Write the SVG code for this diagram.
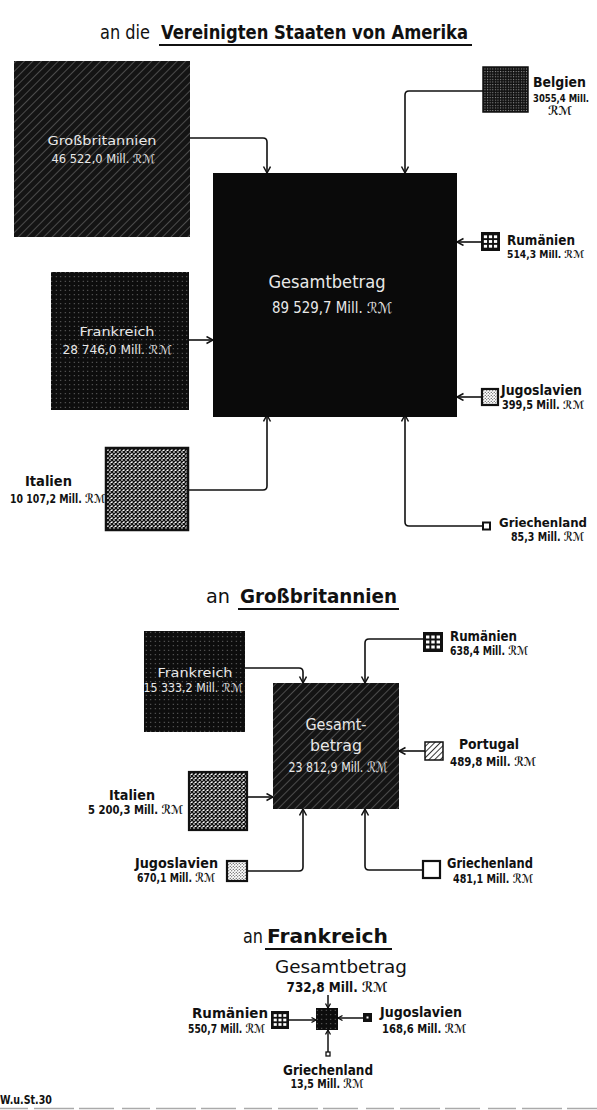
<svg xmlns="http://www.w3.org/2000/svg" xmlns:xlink="http://www.w3.org/1999/xlink" width="597" height="1110" viewBox="0 0 597 1110">
<style>
.lbl{font-family:"DejaVu Sans Condensed","DejaVu Sans","Liberation Sans",sans-serif;font-size:14px;font-weight:bold;fill:#111}
.num{font-family:"DejaVu Sans Condensed","DejaVu Sans","Liberation Sans",sans-serif;font-size:12.5px;font-weight:bold;fill:#111}
.inw{font-family:"DejaVu Sans Condensed","DejaVu Sans","Liberation Sans",sans-serif;font-size:12px;fill:#e8e8e8}
.big{font-family:"DejaVu Sans Condensed","DejaVu Sans","Liberation Sans",sans-serif;font-size:18px;fill:#e8e8e8}
.ttl{font-family:"DejaVu Sans Condensed","DejaVu Sans","Liberation Sans",sans-serif;font-size:20px;fill:#111}
.ttlb{font-family:"DejaVu Sans Condensed","DejaVu Sans","Liberation Sans",sans-serif;font-size:20px;font-weight:bold;fill:#111}
.con{fill:none;stroke:#111;stroke-width:1.6;marker-end:url(#arr)}
.con3{fill:none;stroke:#111;stroke-width:1.5;marker-end:url(#arr3)}
.ul{stroke:#111;stroke-width:2.2}
.bx{stroke:#111;stroke-width:1.5}
</style>
<defs>
<marker id="arr" markerUnits="userSpaceOnUse" markerWidth="10" markerHeight="10" refX="7" refY="4" orient="auto"><path d="M0.5,0.5 L7,4 L0.5,7.5" fill="none" stroke="#111" stroke-width="1.5"/></marker>
<marker id="arr3" markerUnits="userSpaceOnUse" markerWidth="8" markerHeight="8" refX="5" refY="3" orient="auto"><path d="M0.5,0.5 L5,3 L0.5,5.5" fill="none" stroke="#111" stroke-width="1.3"/></marker>
<pattern id="hatchW" width="6" height="6" patternUnits="userSpaceOnUse" patternTransform="rotate(45)"><rect width="6" height="6" fill="#141414"/><line x1="0" y1="0" x2="0" y2="6" stroke="#fff" stroke-width="0.8" stroke-opacity="0.6"/></pattern>
<pattern id="hatchB" width="4" height="4" patternUnits="userSpaceOnUse" patternTransform="rotate(45)"><rect width="4" height="4" fill="#fff"/><line x1="0" y1="0" x2="0" y2="4" stroke="#111" stroke-width="1.7"/></pattern>
<pattern id="dotsW" width="4.5" height="4.5" patternUnits="userSpaceOnUse"><rect width="4.5" height="4.5" fill="#0d0d0d"/><circle cx="2.25" cy="2.25" r="0.55" fill="#fff" fill-opacity="0.6"/></pattern>
<pattern id="dotsD" width="2.6" height="2.6" patternUnits="userSpaceOnUse"><rect width="2.6" height="2.6" fill="#111"/><rect x="1" y="1" width="0.9" height="0.9" fill="#fff" fill-opacity="0.75"/></pattern>
<pattern id="cross" width="4" height="4" patternUnits="userSpaceOnUse"><rect width="4" height="4" fill="#fff"/><path d="M0,0 L4,4 M0,4 L4,0" stroke="#111" stroke-width="1.4"/></pattern>
<pattern id="stip" width="3" height="3" patternUnits="userSpaceOnUse"><rect width="3" height="3" fill="#fff"/><circle cx="0.75" cy="0.75" r="0.6" fill="#222"/><circle cx="2.25" cy="2.25" r="0.6" fill="#222"/></pattern>
<symbol id="win" viewBox="0 0 20 20"><rect width="20" height="20" fill="#111"/><g fill="#fff"><rect x="3" y="3.5" width="3.4" height="3"/><rect x="8.3" y="3.5" width="3.4" height="3"/><rect x="13.6" y="3.5" width="3.4" height="3"/><rect x="3" y="8.5" width="3.4" height="3"/><rect x="8.3" y="8.5" width="3.4" height="3"/><rect x="13.6" y="8.5" width="3.4" height="3"/><rect x="3" y="13.5" width="3.4" height="3"/><rect x="8.3" y="13.5" width="3.4" height="3"/><rect x="13.6" y="13.5" width="3.4" height="3"/></g></symbol>
</defs>
<rect width="597" height="1110" fill="#fff"/>

<g id="title-usa">
<text class="ttl" x="100" y="39" textLength="50" lengthAdjust="spacingAndGlyphs">an die</text>
<text class="ttlb" x="161" y="39" textLength="307" lengthAdjust="spacingAndGlyphs">Vereinigten Staaten von Amerika</text>
<line class="ul" x1="159" y1="45" x2="472" y2="45"/>
</g>

<g id="connectors">
<path class="con" d="M190,138 H263 Q267,138 267,142 V173"/>
<path class="con" d="M483,91 H409 Q405,91 405,95 V173"/>
<path class="con" d="M189,340 H213"/>
<path class="con" d="M481,242 H457"/>
<path class="con" d="M482,397 H457"/>
<path class="con" d="M188,490 H263 Q267,490 267,486 V415"/>
<path class="con" d="M483,526 H409 Q405,526 405,522 V415"/>
<path class="con" d="M245,668 H299 Q303,668 303,672 V683"/>
<path class="con" d="M423,639 H369 Q365,639 365,643 V683"/>
<path class="con" d="M425,751 H399"/>
<path class="con" d="M247,797 H273"/>
<path class="con" d="M247,871 H299 Q303,871 303,867 V809"/>
<path class="con" d="M422,870 H369 Q365,870 365,866 V809"/>
<path class="con3" d="M328,995 V1008"/>
<path class="con3" d="M289,1020 H316"/>
<path class="con3" d="M363,1018 H338"/>
<path class="con3" d="M328,1053 V1030"/>
</g>

<g id="usa-grossbritannien">
<rect x="14" y="61" width="176" height="176" fill="url(#hatchW)"/>
<text class="inw" x="102" y="145" text-anchor="middle" textLength="109" lengthAdjust="spacingAndGlyphs">Großbritannien</text>
<text class="inw" x="103" y="163" text-anchor="middle" textLength="103" lengthAdjust="spacingAndGlyphs">46 522,0 Mill. ℛℳ</text>
</g>
<g id="usa-gesamt">
<rect x="213" y="173" width="244" height="244" fill="#0a0a0a"/>
<text class="big" x="327" y="288" text-anchor="middle" textLength="117" lengthAdjust="spacingAndGlyphs">Gesamtbetrag</text>
<text class="inw" x="332" y="313" text-anchor="middle" style="font-size:15px" textLength="120" lengthAdjust="spacingAndGlyphs">89 529,7 Mill. ℛℳ</text>
</g>
<g id="usa-frankreich">
<rect x="51" y="272" width="138" height="138" fill="url(#dotsW)"/>
<text class="inw" x="117" y="336" text-anchor="middle" textLength="75" lengthAdjust="spacingAndGlyphs">Frankreich</text>
<text class="inw" x="117" y="354" text-anchor="middle" textLength="109" lengthAdjust="spacingAndGlyphs">28 746,0 Mill. ℛℳ</text>
</g>
<g id="usa-belgien">
<rect x="483" y="67" width="45" height="45" fill="url(#dotsD)" class="bx"/>
<text class="lbl" x="533" y="87" textLength="53" lengthAdjust="spacingAndGlyphs">Belgien</text>
<text class="num" x="533" y="102" style="font-size:10.5px" textLength="56" lengthAdjust="spacingAndGlyphs">3055,4 Mill.</text>
<text class="num" x="548" y="115" textLength="24" lengthAdjust="spacingAndGlyphs">ℛℳ</text>
</g>
<g id="usa-rumaenien">
<use xlink:href="#win" x="481" y="232" width="19" height="19"/>
<text class="lbl" x="507" y="245" textLength="68" lengthAdjust="spacingAndGlyphs">Rumänien</text>
<text class="num" x="507" y="258" style="font-size:11px" textLength="77" lengthAdjust="spacingAndGlyphs">514,3 Mill. ℛℳ</text>
</g>
<g id="usa-jugoslavien">
<rect x="482" y="389" width="16" height="16" fill="url(#stip)" stroke="#111" stroke-width="2.2"/>
<text class="lbl" x="501" y="395" textLength="81" lengthAdjust="spacingAndGlyphs">Jugoslavien</text>
<text class="num" x="502" y="409" style="font-size:11.5px" textLength="82" lengthAdjust="spacingAndGlyphs">399,5 Mill. ℛℳ</text>
</g>
<g id="usa-italien">
<rect x="106" y="448" width="82" height="82" fill="url(#cross)" stroke="#111" stroke-width="2.5"/>
<text class="lbl" x="25" y="486" textLength="47" lengthAdjust="spacingAndGlyphs">Italien</text>
<text class="num" x="10" y="503" textLength="95" lengthAdjust="spacingAndGlyphs">10 107,2 Mill. ℛℳ</text>
</g>
<g id="usa-griechenland">
<rect x="483" y="522.5" width="7" height="7" fill="#fff" stroke="#111" stroke-width="2"/>
<text class="lbl" x="499" y="527" style="font-size:13px" textLength="88" lengthAdjust="spacingAndGlyphs">Griechenland</text>
<text class="num" x="511" y="541" textLength="73" lengthAdjust="spacingAndGlyphs">85,3 Mill. ℛℳ</text>
</g>

<g id="title-gb">
<text class="ttl" x="206" y="603" textLength="24" lengthAdjust="spacingAndGlyphs">an</text>
<text class="ttlb" x="240" y="603" textLength="157" lengthAdjust="spacingAndGlyphs">Großbritannien</text>
<line class="ul" x1="238" y1="609" x2="399" y2="609"/>
</g>
<g id="gb-frankreich">
<rect x="144" y="631" width="101" height="101" fill="url(#dotsW)"/>
<text class="inw" x="195" y="677" text-anchor="middle" textLength="75" lengthAdjust="spacingAndGlyphs">Frankreich</text>
<text class="inw" x="193" y="692" text-anchor="middle" textLength="99" lengthAdjust="spacingAndGlyphs">15 333,2 Mill. ℛℳ</text>
</g>
<g id="gb-gesamt">
<rect x="273" y="683" width="126" height="126" fill="url(#hatchW)"/>
<text class="inw" x="336" y="730" text-anchor="middle" style="font-size:16px" textLength="61" lengthAdjust="spacingAndGlyphs">Gesamt-</text>
<text class="inw" x="336" y="751" text-anchor="middle" style="font-size:16px" textLength="52" lengthAdjust="spacingAndGlyphs">betrag</text>
<text class="inw" x="338" y="772" text-anchor="middle" style="font-size:14px" textLength="99" lengthAdjust="spacingAndGlyphs">23 812,9 Mill. ℛℳ</text>
</g>
<g id="gb-rumaenien">
<use xlink:href="#win" x="423" y="632" width="20" height="20"/>
<text class="lbl" x="450" y="641" textLength="67" lengthAdjust="spacingAndGlyphs">Rumänien</text>
<text class="num" x="450" y="655" textLength="78" lengthAdjust="spacingAndGlyphs">638,4 Mill. ℛℳ</text>
</g>
<g id="gb-portugal">
<rect x="425" y="742" width="18" height="18" fill="url(#hatchB)" class="bx"/>
<text class="lbl" x="459" y="749" textLength="60" lengthAdjust="spacingAndGlyphs">Portugal</text>
<text class="num" x="450" y="766" textLength="86" lengthAdjust="spacingAndGlyphs">489,8 Mill. ℛℳ</text>
</g>
<g id="gb-italien">
<rect x="189" y="772" width="58" height="58" fill="url(#cross)" stroke="#111" stroke-width="2.2"/>
<text class="lbl" x="109" y="800" textLength="46" lengthAdjust="spacingAndGlyphs">Italien</text>
<text class="num" x="88" y="814" textLength="95" lengthAdjust="spacingAndGlyphs">5 200,3 Mill. ℛℳ</text>
</g>
<g id="gb-jugoslavien">
<rect x="227" y="861" width="20" height="20" fill="url(#stip)" stroke="#111" stroke-width="2.2"/>
<text class="lbl" x="135" y="868" textLength="83" lengthAdjust="spacingAndGlyphs">Jugoslavien</text>
<text class="num" x="137" y="882" textLength="78" lengthAdjust="spacingAndGlyphs">670,1 Mill. ℛℳ</text>
</g>
<g id="gb-griechenland">
<rect x="423" y="861" width="17" height="17" fill="#fff" stroke="#111" stroke-width="2.2"/>
<text class="lbl" x="447" y="868" textLength="86" lengthAdjust="spacingAndGlyphs">Griechenland</text>
<text class="num" x="453" y="883" textLength="80" lengthAdjust="spacingAndGlyphs">481,1 Mill. ℛℳ</text>
</g>

<g id="title-fr">
<text class="ttl" x="243" y="943" textLength="20" lengthAdjust="spacingAndGlyphs">an</text>
<text class="ttlb" x="267" y="943" textLength="121" lengthAdjust="spacingAndGlyphs">Frankreich</text>
<line class="ul" x1="265" y1="949" x2="392" y2="949"/>
</g>
<g id="fr-gesamt">
<rect x="316" y="1008" width="22" height="22" fill="url(#dotsW)"/>
<text class="ttl" x="341" y="973" text-anchor="middle" style="font-size:17px" textLength="132" lengthAdjust="spacingAndGlyphs">Gesamtbetrag</text>
<text class="lbl" x="337" y="992" text-anchor="middle" textLength="101" lengthAdjust="spacingAndGlyphs">732,8 Mill. ℛℳ</text>
</g>
<g id="fr-rumaenien">
<use xlink:href="#win" x="271" y="1011" width="18" height="18"/>
<text class="lbl" x="192" y="1018" textLength="76" lengthAdjust="spacingAndGlyphs">Rumänien</text>
<text class="num" x="188" y="1033" textLength="77" lengthAdjust="spacingAndGlyphs">550,7 Mill. ℛℳ</text>
</g>
<g id="fr-jugoslavien">
<rect x="363" y="1013" width="9" height="9" fill="#111"/>
<rect x="366.5" y="1016.5" width="2" height="2" fill="#fff"/>
<text class="lbl" x="380" y="1017" textLength="82" lengthAdjust="spacingAndGlyphs">Jugoslavien</text>
<text class="num" x="382" y="1033" textLength="84" lengthAdjust="spacingAndGlyphs">168,6 Mill. ℛℳ</text>
</g>
<g id="fr-griechenland">
<rect x="326" y="1052" width="4" height="4" fill="#fff" stroke="#111" stroke-width="1.3"/>
<text class="lbl" x="328" y="1075" text-anchor="middle" textLength="90" lengthAdjust="spacingAndGlyphs">Griechenland</text>
<text class="num" x="327" y="1088" text-anchor="middle" textLength="73" lengthAdjust="spacingAndGlyphs">13,5 Mill. ℛℳ</text>
</g>

<g id="footer">
<text class="num" x="0" y="1104" textLength="52" lengthAdjust="spacingAndGlyphs">W.u.St.30</text>
<line x1="0" y1="1108.5" x2="597" y2="1108.5" stroke="#aaa" stroke-width="1.5" stroke-dasharray="28,6,40,5,35,8"/>
</g>
</svg>
